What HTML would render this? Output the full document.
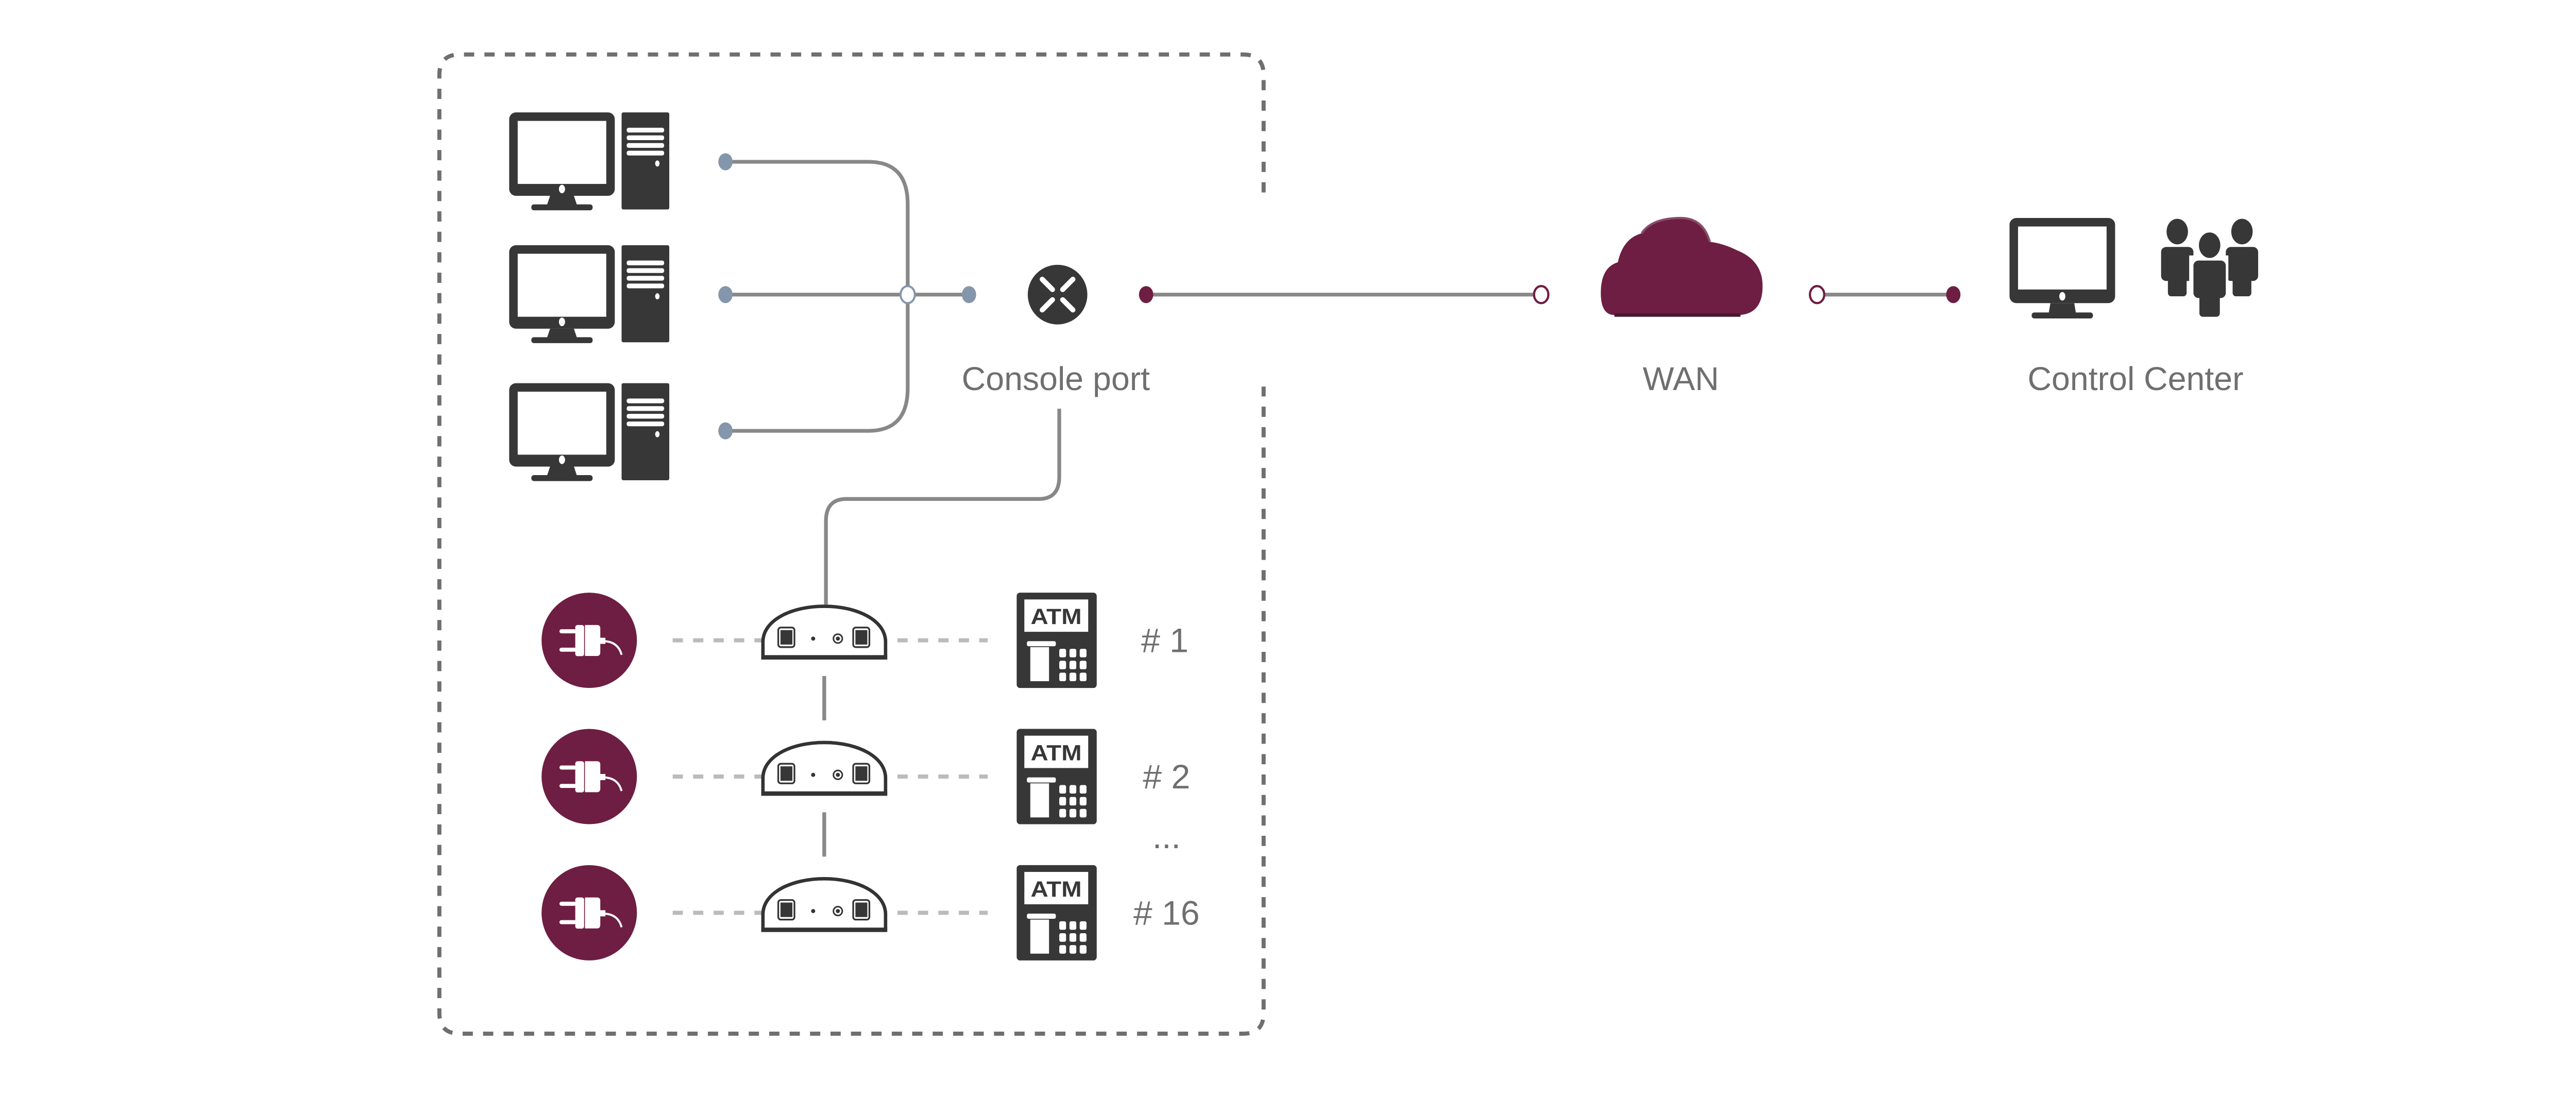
<!DOCTYPE html>
<html><head><meta charset="utf-8"><style>
html,body{margin:0;padding:0;background:#fff;}
svg{display:block;}
text{font-family:"Liberation Sans",sans-serif;fill:#6f6f6f;}
</style></head><body>
<svg width="5183" height="2125" viewBox="0 0 1568 643" preserveAspectRatio="none" xmlns="http://www.w3.org/2000/svg">
<defs>
<g id="pc">
  <rect x="299" y="66" width="62" height="49" rx="4" fill="#373737"/>
  <rect x="304" y="71" width="52" height="37" fill="#fff"/>
  <ellipse cx="330" cy="111" rx="1.8" ry="2.5" fill="#fff"/>
  <polygon points="323,115 337,115 339,121 321,121" fill="#373737"/>
  <rect x="312" y="120" width="36" height="3.5" rx="1.5" fill="#373737"/>
  <rect x="365" y="66" width="28" height="57" rx="1" fill="#373737"/>
  <rect x="368" y="75" width="22" height="2.8" rx="1.2" fill="#fff"/>
  <rect x="368" y="79.5" width="22" height="2.8" rx="1.2" fill="#fff"/>
  <rect x="368" y="84" width="22" height="2.8" rx="1.2" fill="#fff"/>
  <rect x="368" y="88.5" width="22" height="2.8" rx="1.2" fill="#fff"/>
  <ellipse cx="386" cy="96" rx="1.3" ry="1.8" fill="#fff"/>
</g>
<g id="plug">
  <circle cx="0" cy="0" r="28" fill="#6e1e42"/>
  <rect x="-17.5" y="-6.5" width="10" height="2.4" rx="1.2" fill="#fff"/>
  <rect x="-17.5" y="4.3" width="10" height="2.4" rx="1.2" fill="#fff"/>
  <rect x="-8.2" y="-9" width="5.2" height="18.3" rx="1.3" fill="#fff"/>
  <path d="M-2.5,-9 H4.5 Q6.5,-9 6.5,-7 V7 Q6.5,9.2 4.5,9.2 H-2.5 Z" fill="#fff"/>
  <rect x="6" y="-1.5" width="3.5" height="3.6" fill="#fff"/>
  <path d="M9,0.5 Q17,1 19,8.5" stroke="#fff" stroke-width="1.2" fill="none"/>
</g>
<g id="dome">
  <path d="M448,386 L448,377 C448,364 465,356 484,356 C503,356 520,364 520,377 L520,386 Z" fill="#fff" stroke="#333" stroke-width="2"/>
  <line x1="447" y1="386" x2="521" y2="386" stroke="#333" stroke-width="2.6"/>
  <rect x="457" y="368.5" width="9.5" height="11.5" rx="1.5" fill="#fff" stroke="#333" stroke-width="1"/>
  <rect x="458.3" y="370" width="7" height="8.5" fill="#373737"/>
  <rect x="501" y="368.5" width="9.5" height="11.5" rx="1.5" fill="#fff" stroke="#333" stroke-width="1"/>
  <rect x="502.3" y="370" width="7" height="8.5" fill="#373737"/>
  <circle cx="477.5" cy="375" r="1.2" fill="#333"/>
  <circle cx="492" cy="375" r="2.6" fill="#fff" stroke="#333" stroke-width="0.9"/>
  <circle cx="492" cy="375" r="1.2" fill="#333"/>
</g>
<g id="atm">
  <rect x="597" y="348" width="47" height="56" rx="2" fill="#373737"/>
  <rect x="601.5" y="352" width="37.5" height="19" fill="#fff"/>
  <text x="620.2" y="366.5" text-anchor="middle" font-size="13" font-weight="bold" style="fill:#373737" textLength="30" lengthAdjust="spacingAndGlyphs">ATM</text>
  <rect x="603" y="376.5" width="17" height="3" rx="1" fill="#fff"/>
  <rect x="605" y="380" width="11" height="20" fill="#fff"/>
  <g fill="#fff">
    <rect x="622" y="381" width="4" height="5" rx="1"/><rect x="628" y="381" width="4" height="5" rx="1"/><rect x="634" y="381" width="4" height="5" rx="1"/>
    <rect x="622" y="388" width="4" height="5" rx="1"/><rect x="628" y="388" width="4" height="5" rx="1"/><rect x="634" y="388" width="4" height="5" rx="1"/>
    <rect x="622" y="395" width="4" height="5" rx="1"/><rect x="628" y="395" width="4" height="5" rx="1"/><rect x="634" y="395" width="4" height="5" rx="1"/>
  </g>
</g>
</defs>

<!-- dashed container -->
<path d="M742,113 V44 Q742,32 730,32 H270 Q258,32 258,44 V595 Q258,607 270,607 H730 Q742,607 742,595 V227" fill="none" stroke="#6f6f6f" stroke-width="2.4" stroke-dasharray="6,6"/>

<!-- computers -->
<use href="#pc"/>
<use href="#pc" transform="translate(0,78)"/>
<use href="#pc" transform="translate(0,159)"/>

<!-- bus lines -->
<g stroke="#888" stroke-width="2.2" fill="none">
  <path d="M426,95 H510 Q533,95 533,120 V228 Q533,253 510,253 H426"/>
  <path d="M426,173 H569"/>
  <path d="M622,240 V280 Q622,293 610,293 H497 Q485,293 485,306 V355"/>
  <path d="M484,397 V423"/>
  <path d="M484,477 V503"/>
  <path d="M673,173 H905"/>
  <path d="M1067,173 H1147"/>
</g>
<g fill="#8496ab">
  <ellipse cx="426" cy="95" rx="4.2" ry="5"/>
  <ellipse cx="426" cy="173" rx="4.2" ry="5"/>
  <ellipse cx="426" cy="253" rx="4.2" ry="5"/>
  <ellipse cx="569" cy="173" rx="4.2" ry="5"/>
</g>
<ellipse cx="533" cy="173" rx="4.2" ry="5" fill="#fff" stroke="#8496ab" stroke-width="1.2"/>

<!-- router -->
<circle cx="621" cy="173" r="17.5" fill="#373737"/>
<g stroke="#fff" stroke-width="3" stroke-linecap="round">
  <line x1="612" y1="164" x2="618" y2="170"/><line x1="630" y1="164" x2="624" y2="170"/>
  <line x1="612" y1="182" x2="618" y2="176"/><line x1="630" y1="182" x2="624" y2="176"/>
</g>
<text x="620" y="229" text-anchor="middle" font-size="19.5">Console port</text>

<!-- WAN link -->
<ellipse cx="673" cy="173" rx="4.2" ry="5" fill="#6e1e42"/>
<ellipse cx="905" cy="173" rx="4.2" ry="5" fill="#fff" stroke="#6e1e42" stroke-width="1.3"/>
<ellipse cx="1067" cy="173" rx="4.2" ry="5" fill="#fff" stroke="#6e1e42" stroke-width="1.3"/>
<ellipse cx="1147" cy="173" rx="4.2" ry="5" fill="#6e1e42"/>

<!-- cloud -->
<g fill="#6e1e42">
  <path d="M948,185 Q940,185 940,172 Q940,157 950,154 Q953,140 964,137 Q970,128 987,128 Q1000,128 1004,142 Q1012,143 1020,147 Q1035,153 1035,168 Q1035,185 1020,185 Z"/>
</g>
<path d="M948,185 H1022" stroke="#4d1530" stroke-width="2"/>
<path d="M964,137 Q970,128 987,128 Q1000,128 1004,142" fill="none" stroke="#8a4d6a" stroke-width="1.3"/>
<text x="987" y="229" text-anchor="middle" font-size="19.5">WAN</text>

<!-- control center monitor -->
<rect x="1180" y="128" width="62" height="50" rx="4" fill="#373737"/>
<rect x="1185" y="133" width="52" height="37" fill="#fff"/>
<ellipse cx="1211" cy="174" rx="1.8" ry="2.5" fill="#fff"/>
<polygon points="1204,178 1218,178 1219,184 1203,184" fill="#373737"/>
<rect x="1193" y="183.5" width="36" height="3.5" rx="1.5" fill="#373737"/>
<!-- people -->
<g fill="#373737">
  <ellipse cx="1278.5" cy="136" rx="6.3" ry="7.5"/>
  <rect x="1269" y="145" width="19" height="20" rx="3"/>
  <rect x="1273" y="160" width="11" height="14" rx="2"/>
  <ellipse cx="1316.5" cy="136" rx="6.3" ry="7.5"/>
  <rect x="1307" y="145" width="19" height="20" rx="3"/>
  <rect x="1311" y="160" width="11" height="14" rx="2"/>
</g>
<rect x="1285.5" y="150" width="23" height="65" fill="#fff"/>
<ellipse cx="1297.5" cy="144" rx="7.5" ry="8.5" fill="#fff"/>
<g fill="#373737">
  <ellipse cx="1297.5" cy="144" rx="6.3" ry="7.5"/>
  <rect x="1288" y="153" width="19" height="22" rx="3"/>
  <rect x="1291.5" y="165" width="12" height="21" rx="2"/>
</g>
<text x="1254" y="229" text-anchor="middle" font-size="19.5">Control Center</text>

<!-- serial rows -->
<g stroke="#bbb" stroke-width="2.4" stroke-dasharray="6,6">
  <line x1="395" y1="376" x2="580" y2="376"/>
  <line x1="395" y1="456" x2="580" y2="456"/>
  <line x1="395" y1="536" x2="580" y2="536"/>
</g>
<use href="#plug" transform="translate(346,376)"/>
<use href="#plug" transform="translate(346,456)"/>
<use href="#plug" transform="translate(346,536)"/>
<use href="#dome"/>
<use href="#dome" transform="translate(0,80)"/>
<use href="#dome" transform="translate(0,160)"/>
<use href="#atm"/>
<use href="#atm" transform="translate(0,80)"/>
<use href="#atm" transform="translate(0,160)"/>
<text x="684" y="383" text-anchor="middle" font-size="20">#&#160;1</text>
<text x="685" y="463" text-anchor="middle" font-size="20">#&#160;2</text>
<text x="685" y="498" text-anchor="middle" font-size="20">...</text>
<text x="685" y="543" text-anchor="middle" font-size="20">#&#160;16</text>
</svg>
</body></html>
